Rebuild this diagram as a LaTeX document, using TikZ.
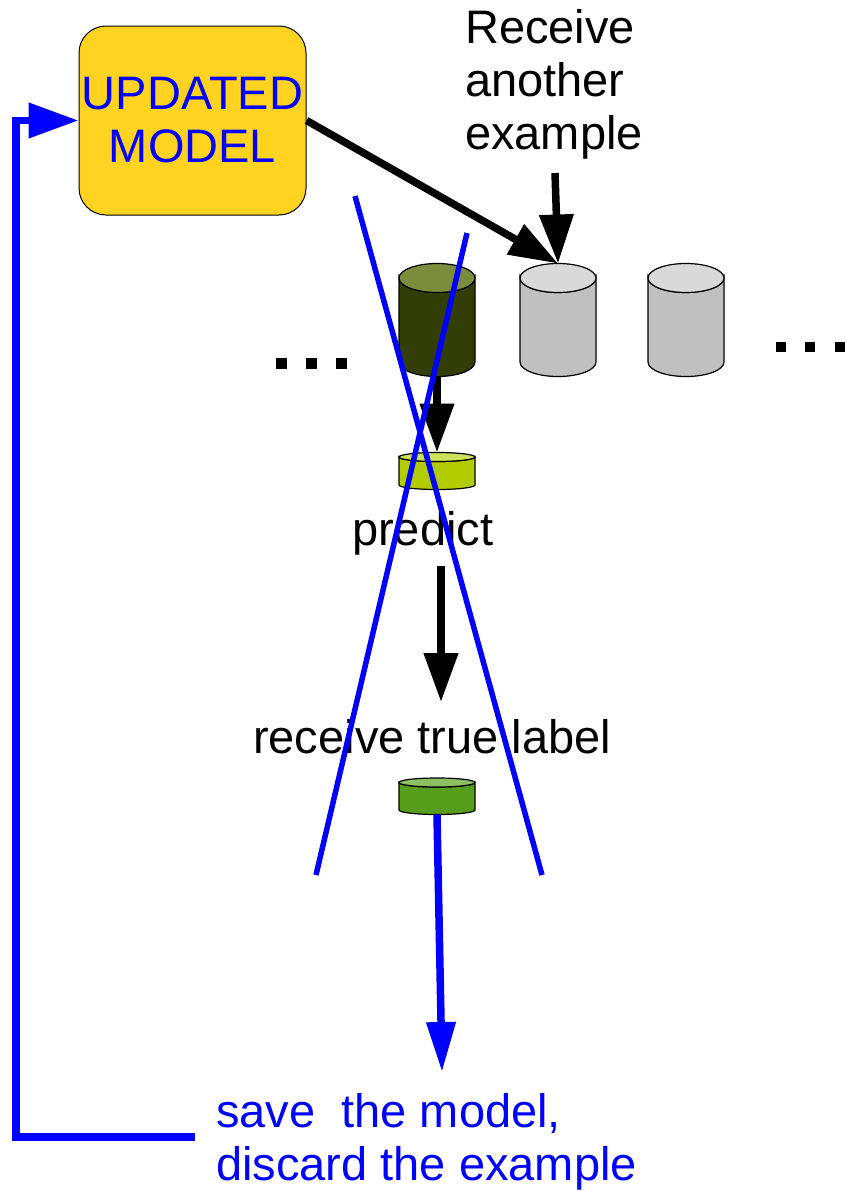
\documentclass[tikz,border=0pt]{standalone}
\usepackage{fontspec}
\setmainfont{Liberation Sans}
\usetikzlibrary{arrows.meta}
\usetikzlibrary{positioning}

\definecolor{modelyellow}{HTML}{FFD320}
\definecolor{olivebody}{HTML}{333E06}
\definecolor{oliveend}{HTML}{7B8C3D}
\definecolor{greybody}{HTML}{C0C0C0}
\definecolor{greyend}{HTML}{D9D9D9}
\definecolor{limebody}{HTML}{B3CC00}
\definecolor{limeend}{HTML}{CDE15A}
\definecolor{leafbody}{HTML}{579D1C}
\definecolor{leafend}{HTML}{8DC063}

\tikzset{lbl/.style={font=\fontsize{47}{53}\selectfont,inner sep=0}}
\tikzset{rim/.style={line width=1.2pt,draw=black}}
\tikzset{blk/.style={line width=7.5pt,-{Triangle[length=49pt,width=33pt]}}}
\tikzset{blu/.style={blk,draw=blue}}
\tikzset{cross/.style={line width=5.5pt,blue}}

% name, x, top, bottom, x radius, y radius, body colour, end colour
\newcommand{\barrel}[8]{%
  \draw[rim,fill=#7] (#2-#5,#3) -- (#2-#5,#4)
    arc[start angle=180,end angle=360,x radius=#5pt,y radius=#6pt]
    -- (#2+#5,#3)
    arc[start angle=0,end angle=-180,x radius=#5pt,y radius=#6pt] -- cycle;
  \draw[rim,fill=#8] (#2,#3) ellipse[x radius=#5pt,y radius=#6pt];
  \coordinate (#1-top) at (#2,#3-#6);
  \coordinate (#1-bot) at (#2,#4+#6);
}

\begin{document}
\begin{tikzpicture}[x=1pt,y=-1pt]
\useasboundingbox (0,0) rectangle (846,1191);

\node[lbl,draw,line width=1pt,fill=modelyellow,rounded corners=27pt,
  minimum width=227pt,minimum height=189pt,text=blue,align=center]
  (model) at (192.5,120.5) {UPDATED\\MODEL};

% base anchor sits on the last line
\node[lbl,anchor=base west,align=left] (recv) at (465,149) {Receive\\another\\example};

% stream of examples
\barrel{cur}{437}{278}{362}{38}{14.5}{olivebody}{oliveend}
\barrel{nxt}{558}{278}{362}{38}{14.5}{greybody}{greyend}
\barrel{far}{686}{278}{362}{38}{14.5}{greybody}{greyend}

\foreach \x in {276,306,336} \fill (\x,358) rectangle ++(11,11);
\foreach \x in {776,805,835} \fill (\x,342) rectangle ++(10,10);

\barrel{pred}{437}{457}{485}{38}{4.5}{limebody}{limeend}
\barrel{truth}{437}{782.5}{810}{38}{4.5}{leafbody}{leafend}

\node[lbl,anchor=base west] (predict) at (352,545) {predict};
\node[lbl,anchor=base west] (label) at (253,753) {receive true label};
\node[lbl,anchor=base west,align=left,text=blue] (save) at (216,1180)
  {save\ \ the model,\\discard the example};

\coordinate (feed) at (555,173);
\coordinate (pout) at (441,566);
\coordinate (pin) at (441,702);
\coordinate (done) at (442,1072);
\coordinate (back) at (195,1137);
\coordinate (rail) at (16,600);

\draw[blk] (model.east) -- (nxt-top);
\draw[blk] (feed) -- (nxt-top);
\draw[blk] (cur-bot) -- (pred-top);
\draw[blk] (pout) -- (pin);
\draw[blu,-{Triangle[length=50pt,width=28pt]}] (truth-bot) -- (done);
\draw[blu,-{Triangle[length=50pt,width=34pt]}] (back) -| (rail) |- (model.west);

% struck out
\draw[cross] (355,196) -- (542,875);
\draw[cross] (467,233) -- (316,875);

\end{tikzpicture}
\end{document}
